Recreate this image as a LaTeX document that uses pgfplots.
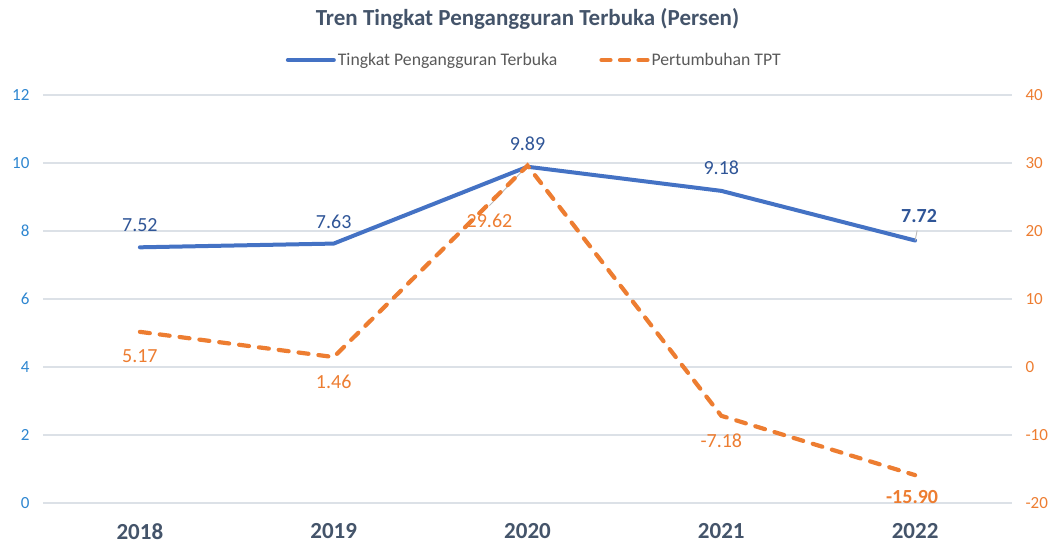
\documentclass[border=0pt]{standalone}
\usepackage{pgfplots}
\pgfplotsset{compat=1.18}
\usepackage{pgfplotstable}
\usepackage{fontspec}
\setmainfont{Carlito}
\definecolor{cblue}{HTML}{4472C4}
\definecolor{corange}{HTML}{ED7D31}
\definecolor{cslate}{HTML}{44546A}
\definecolor{clblue}{HTML}{2F5597}
\definecolor{ctickblue}{HTML}{2E86D0}
\definecolor{cgrid}{HTML}{DCE1E7}
\definecolor{clegend}{HTML}{595959}

\pgfplotstableread{
x y lbl dx dy
0 7.52 7.52 0 22
1 7.63 7.63 0 22
2 9.89 9.89 0 23
3 9.18 9.18 0 23
4 7.72 {\textbf{7.72}} 4 25
}\tpt

\pgfplotstableread{
x y lbl dx dy
0 5.17 5.17 0 -24
1 1.46 1.46 0 -25
2 29.62 29.62 -38 -55
3 -7.18 -7.18 0 -25
4 -15.90 {\textbf{-15.90}} -3 -22
}\growth

\begin{document}
\begin{tikzpicture}
\useasboundingbox (0,0) rectangle (1054pt,544pt);
\pgfplotsset{
  common/.style={
    at={(43pt,41pt)}, anchor=south west,
    scale only axis, width=969pt, height=408pt,
    xmin=-0.5, xmax=4.5,
    axis line style={draw=none},
    major tick length=0pt,
    /pgf/number format/assume math mode=true,
    clip=false,
  },
  orangeline/.style={corange, line width=4.2pt, line cap=round, dash pattern=on 10pt off 10pt},
}
\begin{axis}[common,
  ymin=0, ymax=12, ytick={0,2,...,12},
  ymajorgrids, grid style={cgrid, line width=1.2pt},
  yticklabel style={font=\fontsize{17}{20}\selectfont, text=ctickblue, xshift=-10pt},
  xtick={0,1,2,3,4},
  xticklabels={2018,2019,2020,2021,2022},
  xticklabel style={font=\fontsize{23}{27}\selectfont\bfseries, text=cslate, yshift=-17pt},
  title={Tren Tingkat Pengangguran Terbuka (Persen)},
  title style={at={(axis description cs:0.5,1.172)}, anchor=center, font=\fontsize{23}{27}\selectfont\bfseries, text=cslate},
  legend style={at={(axis description cs:0.507,1.0858)}, anchor=center, draw=none, fill=none,
    font=\fontsize{17.7}{21}\selectfont, text=clegend,
    /tikz/every even column/.append style={column sep=40pt},
    /tikz/every odd column/.append style={inner sep=1pt}},
  legend columns=2,
  legend image code/.code={\draw[#1] (2pt,0pt) -- (48pt,0pt);},
]
\addplot[cblue, line width=4pt, line join=round, line cap=round,
  nodes near coords, point meta=explicit symbolic,
  visualization depends on={\thisrow{dx} \as \mydx},
  visualization depends on={\thisrow{dy} \as \mydy},
  nodes near coords style={anchor=center, xshift=\mydx pt, yshift=\mydy pt,
    font=\fontsize{20}{24}\selectfont, text=clblue},
] table[x=x, y=y, meta=lbl] {\tpt};
\addlegendentry{Tingkat Pengangguran Terbuka}
\addlegendimage{corange, line width=4.2pt, line cap=round, dash pattern=on 9pt off 9.5pt}
\addlegendentry{Pertumbuhan TPT}
\draw[gray!55, line width=0.9pt] (axis cs:4,7.72) -- ++(2pt,10pt);
\end{axis}
\begin{axis}[common,
  ymin=-20, ymax=40, ytick={-20,-10,...,40},
  axis y line*=right, hide x axis,
  yticklabel style={font=\fontsize{17}{20}\selectfont, text=corange, xshift=10pt},
]
\draw[gray!55, line width=0.9pt] (axis cs:2,29.62) -- ++(-38pt,-40pt);
\addplot[orangeline,
  nodes near coords, point meta=explicit symbolic,
  visualization depends on={\thisrow{dx} \as \mydx},
  visualization depends on={\thisrow{dy} \as \mydy},
  nodes near coords style={anchor=center, xshift=\mydx pt, yshift=\mydy pt,
    font=\fontsize{20}{24}\selectfont, text=corange, solid},
] table[x=x, y=y, meta=lbl] {\growth};
\end{axis}
\end{tikzpicture}
\end{document}
